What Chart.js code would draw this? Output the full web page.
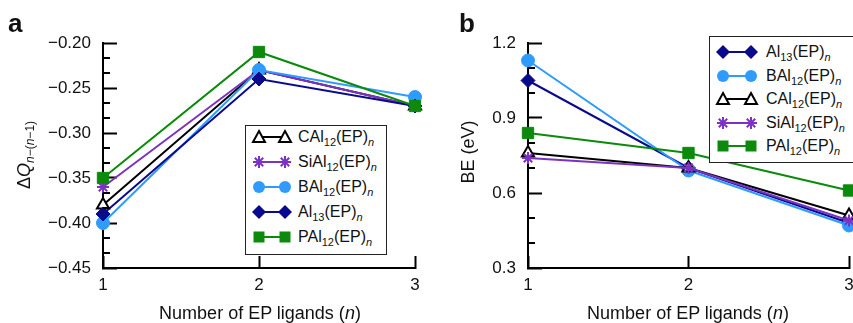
<!DOCTYPE html>
<html>
<head>
<meta charset="utf-8">
<script src="https://cdn.jsdelivr.net/npm/chart.js@4"></script>
<style>
  html, body { margin: 0; padding: 0; background: #fff; }
  body { width: 853px; height: 323px; position: relative; overflow: hidden;
         font-family: "Liberation Sans", Arial, Helvetica, sans-serif; color: #111; }
  .panel { position: absolute; top: 0; height: 323px; }
  .letter { position: absolute; font-weight: bold; font-size: 26px; line-height: 1; }
  .xtitle { position: absolute; font-size: 18px; line-height: 1; white-space: nowrap; transform: translateX(-50%); }
  .ytitle { position: absolute; font-size: 18px; line-height: 1; white-space: nowrap;
            transform: translate(-50%, -50%) rotate(-90deg); }
  sub { font-size: 12px; vertical-align: -4px; line-height: 0; }
  .legend { position: absolute; border: 1.5px solid #222; background: #fff; box-sizing: border-box; }
  .row { position: absolute; left: 0; height: 20px; white-space: nowrap; font-size: 16px; line-height: 20px; }
  .row svg { position: absolute; left: 0; top: 0; }
  .row span { position: absolute; top: 0; }
  .row sub { font-size: 11px; vertical-align: -4px; }
  .minor { position: absolute; width: 7px; height: 2px; background: #000; }
</style>
</head>
<body>
<div class="panel" style="left:0;width:430px"><canvas id="chartA"></canvas></div>
<div class="panel" style="left:430px;width:440px"><canvas id="chartB"></canvas></div>

<div class="letter" style="left:8px;top:10px">a</div>
<div class="letter" style="left:459px;top:10px">b</div>
<div class="ytitle" style="left:24px;top:155px">Δ<i>Q</i><sub><i>n</i>−(<i>n</i>−1)</sub></div>
<div class="ytitle" style="left:468px;top:152px">BE (eV)</div>
<div class="xtitle" style="left:260px;top:304px">Number of EP ligands (<i>n</i>)</div>
<div class="xtitle" style="left:688px;top:304px">Number of EP ligands (<i>n</i>)</div>
<div id="legendA" class="legend" style="left:245px;top:125px;width:142px;height:130px"></div>
<div id="legendB" class="legend" style="left:709px;top:36px;width:150px;height:127px"></div>

<script>
const nValues = [1, 2, 3];
const xTickLabels = ['1', '2', '3'];

// panel a: charge transfer
const chargeCAl12 = [-0.38, -0.23, -0.27];
const chargeSiAl12 = [-0.36, -0.23, -0.27];
const chargeBAl12 = [-0.40, -0.23, -0.26];
const chargeAl13 = [-0.39, -0.24, -0.27];
const chargePAl12 = [-0.35, -0.21, -0.27];
const yTicksA = [-0.45, -0.40, -0.35, -0.30, -0.25, -0.20];

// panel b: binding energy
const beAl13 = [1.05, 0.70, 0.48];
const beBAl12 = [1.13, 0.69, 0.47];
const beCAl12 = [0.76, 0.70, 0.51];
const beSiAl12 = [0.74, 0.70, 0.49];
const bePAl12 = [0.84, 0.76, 0.61];
const yTicksB = [0.3, 0.6, 0.9, 1.2];

const styles = {
    CAl12: { label: 'CAl<sub>12</sub>(EP)<sub><i>n</i></sub>', color: '#000000', fill: '#ffffff', shape: 'triangle', radius: 7 },
    SiAl12: { label: 'SiAl<sub>12</sub>(EP)<sub><i>n</i></sub>', color: '#7b32c4', fill: '#7b32c4', shape: 'star', radius: 6 },
    BAl12: { label: 'BAl<sub>12</sub>(EP)<sub><i>n</i></sub>', color: '#2f9bff', fill: '#2f9bff', shape: 'circle', radius: 6.5 },
    Al13: { label: 'Al<sub>13</sub>(EP)<sub><i>n</i></sub>', color: '#0a0a8c', fill: '#0a0a8c', shape: 'rectRot', radius: 7 },
    PAl12: { label: 'PAl<sub>12</sub>(EP)<sub><i>n</i></sub>', color: '#0b8a0b', fill: '#0b8a0b', shape: 'rect', radius: 8 }
};

function makeDataset(key, values) {
    const s = styles[key];
    return {
        label: key,
        data: values.map((v, i) => ({ x: nValues[i], y: v })),
        borderColor: s.color,
        backgroundColor: s.fill,
        borderWidth: 2,
        pointStyle: s.shape,
        pointRadius: s.radius,
        pointBorderWidth: (s.shape === 'star' || s.shape === 'triangle') ? 2 : 1,
        pointBorderColor: s.color,
        pointBackgroundColor: s.fill,
        clip: false
    };
}

const tickFont = { family: 'Liberation Sans', size: 17 };

function makeChart(id, datasets, yTicks, yDigits, yWidth, rightPad) {
    return new Chart(document.getElementById(id), {
        type: 'line',
        data: { datasets: datasets },
        options: {
            responsive: true,
            maintainAspectRatio: false,
            animation: false,
            layout: { padding: { left: 0, right: rightPad, top: 43, bottom: 0 } },
            plugins: {
                legend: { display: false },
                tooltip: { enabled: false }
            },
            scales: {
                x: {
                    type: 'linear',
                    min: nValues[0],
                    max: nValues[nValues.length - 1],
                    // negative tick length points the marks into the plot
                    grid: { display: true, drawOnChartArea: false, drawTicks: true, tickLength: -12, tickWidth: 2, tickColor: '#000' },
                    border: { display: true, color: '#000', width: 2 },
                    afterBuildTicks: s => { s.ticks = nValues.map(v => ({ value: v })); },
                    afterFit: s => { s.height = 55; s.paddingLeft = 0; s.paddingRight = 0; },
                    ticks: {
                        padding: 19,
                        color: '#111',
                        font: tickFont,
                        callback: (v) => xTickLabels[nValues.indexOf(v)]
                    }
                },
                y: {
                    type: 'linear',
                    min: yTicks[0],
                    max: yTicks[yTicks.length - 1],
                    grid: { display: true, drawOnChartArea: false, drawTicks: true, tickLength: -14, tickWidth: 2, tickColor: '#000' },
                    border: { display: true, color: '#000', width: 2 },
                    afterBuildTicks: s => { s.ticks = yTicks.map(v => ({ value: v })); },
                    afterFit: s => { s.width = yWidth; s.paddingTop = 0; s.paddingBottom = 0; },
                    ticks: {
                        padding: 26,
                        color: '#111',
                        font: tickFont,
                        callback: (v) => v.toFixed(yDigits).replace('-', '\u2212')
                    }
                }
            }
        }
    });
}

// short unlabelled ticks between the labelled ones, placed with the chart's y scale
function addMinorTicks(chart, panelLeft, yMajor, minorPer) {
    const area = chart.chartArea;
    const ys = chart.scales.y;
    for (let i = 0; i < yMajor.length - 1; i++) {
        const step = (yMajor[i + 1] - yMajor[i]) / (minorPer + 1);
        for (let k = 1; k <= minorPer; k++) {
            const y = ys.getPixelForValue(yMajor[i] + k * step);
            const d = document.createElement('div');
            d.className = 'minor';
            d.style.left = (panelLeft + area.left) + 'px';
            d.style.top = (Math.round(y) - 1) + 'px';
            document.body.appendChild(d);
        }
    }
}

const chartA = makeChart('chartA', [
    makeDataset('CAl12', chargeCAl12),
    makeDataset('SiAl12', chargeSiAl12),
    makeDataset('BAl12', chargeBAl12),
    makeDataset('Al13', chargeAl13),
    makeDataset('PAl12', chargePAl12)
].reverse(), yTicksA, 2, 103, 15);

const chartB = makeChart('chartB', [
    makeDataset('Al13', beAl13),
    makeDataset('BAl12', beBAl12),
    makeDataset('CAl12', beCAl12),
    makeDataset('SiAl12', beSiAl12),
    makeDataset('PAl12', bePAl12)
].reverse(), yTicksB, 1, 98, 21);

addMinorTicks(chartA, 0, yTicksA, 2);
addMinorTicks(chartB, 430, yTicksB, 2);

// HTML legends with marker samples
function markerSvg(s, x, y) {
    const r = 6;
    switch (s.shape) {
        case 'circle': return `<circle cx="${x}" cy="${y}" r="${r}" fill="${s.fill}"/>`;
        case 'rect': return `<rect x="${x - 5.5}" y="${y - 5.5}" width="11" height="11" fill="${s.fill}"/>`;
        case 'rectRot': return `<polygon points="${x},${y - 7} ${x + 7},${y} ${x},${y + 7} ${x - 7},${y}" fill="${s.fill}"/>`;
        case 'triangle': return `<polygon points="${x},${y - 6} ${x + 6},${y + 5} ${x - 6},${y + 5}" fill="#fff" stroke="${s.color}" stroke-width="2"/>`;
        case 'star': return `<g stroke="${s.color}" stroke-width="2"><line x1="${x - r}" y1="${y}" x2="${x + r}" y2="${y}"/><line x1="${x}" y1="${y - r}" x2="${x}" y2="${y + r}"/><line x1="${x - 4.2}" y1="${y - 4.2}" x2="${x + 4.2}" y2="${y + 4.2}"/><line x1="${x - 4.2}" y1="${y + 4.2}" x2="${x + 4.2}" y2="${y - 4.2}"/></g>`;
    }
    return '';
}

function buildLegend(id, keys, firstY, spacing, m1, m2, textX) {
    const box = document.getElementById(id);
    keys.forEach((key, i) => {
        const s = styles[key];
        const row = document.createElement('div');
        row.className = 'row';
        row.style.top = (firstY + i * spacing - 10) + 'px';
        row.style.width = '100%';
        row.innerHTML = `<svg width="${m2 + 10}" height="20"><line x1="${m1}" y1="10" x2="${m2}" y2="10" stroke="${s.color}" stroke-width="2"/>` +
            markerSvg(s, m1, 10) + markerSvg(s, m2, 10) + `</svg><span style="left:${textX}px">${s.label}</span>`;
        box.appendChild(row);
    });
}

buildLegend('legendA', ['CAl12', 'SiAl12', 'BAl12', 'Al13', 'PAl12'], 11, 25, 13, 39, 52);
buildLegend('legendB', ['Al13', 'BAl12', 'CAl12', 'SiAl12', 'PAl12'], 15, 23.5, 13, 41, 56);
</script>
</body>
</html>
